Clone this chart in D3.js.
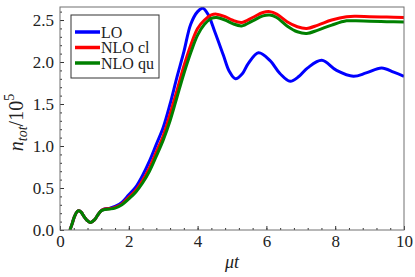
<!DOCTYPE html>
<html>
<head>
<meta charset="utf-8">
<script src="https://cdn.jsdelivr.net/npm/d3@7"></script>
<style>
  body { margin: 0; background: #fff; }
  svg { display: block; }
  text { font-family: "Liberation Serif", "DejaVu Serif", serif; }
</style>
</head>
<body>
<svg width="415" height="277"></svg>
<script>
// time axis (mu t) and n_tot / 10^5
var tLO  = [0.29, 0.35, 0.42, 0.5, 0.55, 0.62, 0.7, 0.8, 0.89, 1.0, 1.1, 1.2, 1.3, 1.45, 1.6, 1.8, 2.0, 2.2, 2.4, 2.6, 2.8, 3.0, 3.2, 3.4, 3.6, 3.8, 4.0, 4.15, 4.3, 4.5, 4.75, 4.92, 5.1, 5.3, 5.47, 5.77, 6.1, 6.4, 6.69, 6.95, 7.2, 7.61, 8.04, 8.53, 8.9, 9.35, 9.7, 10.0],
    nLO  = [0.0, 0.07, 0.16, 0.22, 0.23, 0.21, 0.16, 0.11, 0.09, 0.12, 0.18, 0.23, 0.25, 0.26, 0.28, 0.33, 0.42, 0.51, 0.65, 0.82, 1.02, 1.22, 1.5, 1.82, 2.12, 2.45, 2.6, 2.64, 2.57, 2.36, 2.08, 1.89, 1.8, 1.86, 1.98, 2.11, 2.02, 1.86, 1.77, 1.83, 1.93, 2.02, 1.9, 1.83, 1.87, 1.93, 1.88, 1.83],
    tNLO = [0.29, 0.35, 0.42, 0.5, 0.55, 0.62, 0.7, 0.8, 0.89, 1.0, 1.1, 1.2, 1.3, 1.45, 1.6, 1.8, 2.0, 2.2, 2.4, 2.6, 2.8, 3.0, 3.2, 3.4, 3.6, 3.8, 4.0, 4.2, 4.4, 4.55, 4.8, 5.0, 5.28, 5.6, 5.9, 6.1, 6.3, 6.6, 6.9, 7.17, 7.5, 7.9, 8.33, 8.6, 9.0, 9.5, 10.0],
    nCl  = [0.0, 0.07, 0.16, 0.22, 0.23, 0.21, 0.16, 0.11, 0.09, 0.12, 0.18, 0.23, 0.25, 0.255, 0.27, 0.31, 0.39, 0.47, 0.59, 0.74, 0.93, 1.12, 1.38, 1.66, 1.95, 2.2, 2.4, 2.5, 2.56, 2.57, 2.54, 2.5, 2.47, 2.53, 2.59, 2.6, 2.57, 2.48, 2.42, 2.4, 2.44, 2.5, 2.54, 2.545, 2.54, 2.535, 2.53],
    nQu  = [0.0, 0.07, 0.16, 0.22, 0.23, 0.21, 0.16, 0.11, 0.09, 0.12, 0.18, 0.23, 0.245, 0.25, 0.26, 0.3, 0.37, 0.45, 0.56, 0.7, 0.88, 1.07, 1.3, 1.58, 1.86, 2.11, 2.32, 2.45, 2.52, 2.53, 2.5, 2.46, 2.43, 2.49, 2.55, 2.56, 2.53, 2.43, 2.36, 2.34, 2.38, 2.44, 2.49, 2.49, 2.485, 2.48, 2.475];

var seriesNames = ["LO", "NLO cl", "NLO qu"],
    seriesColors = ["#0000ff", "#ff0000", "#008000"],
    xTicks = [0, 2, 4, 6, 8, 10],
    yTicks = [0, 0.5, 1.0, 1.5, 2.0, 2.5];

var svg = d3.select("svg"),
    margin = {top: 7, right: 11, bottom: 47, left: 60},
    width = +svg.attr("width") - margin.left - margin.right,
    height = +svg.attr("height") - margin.top - margin.bottom,

    x = d3.scaleLinear().domain([0, 10]).range([0, width]),
    y = d3.scaleLinear().domain([0, 2.655]).range([height, 0]),

    g = svg.append("g")
        .attr("transform", "translate(" + margin.left + "," + margin.top + ")");

var series = [
    {name: seriesNames[0], color: seriesColors[0], t: tLO, v: nLO},
    {name: seriesNames[1], color: seriesColors[1], t: tNLO, v: nCl},
    {name: seriesNames[2], color: seriesColors[2], t: tNLO, v: nQu}
];

svg.append("defs").append("clipPath")
    .attr("id", "clip")
    .append("rect")
    .attr("width", width)
    .attr("height", height);

var line = d3.line()
    .x(function(d) { return x(d[0]); })
    .y(function(d) { return y(d[1]); })
    .curve(d3.curveCatmullRom.alpha(0.5));

g.append("g")
    .attr("clip-path", "url(#clip)")
    .selectAll("path")
    .data(series)
    .enter().append("path")
    .attr("fill", "none")
    .attr("stroke", function(d) { return d.color; })
    .attr("stroke-width", 3)
    .attr("stroke-linejoin", "round")
    .attr("d", function(d) { return line(d.t.map(function(t, i) { return [t, d.v[i]]; })); });

// minor ticks
g.append("g")
    .attr("class", "axis")
    .attr("transform", "translate(0," + height + ")")
    .call(d3.axisBottom(x).tickValues(d3.range(0, 10.01, 0.4)).tickSize(-2).tickFormat(""));
g.append("g")
    .attr("class", "axis")
    .call(d3.axisLeft(y).tickValues(d3.range(0, 2.65, 0.1)).tickSize(-2).tickFormat(""));

// major ticks
g.append("g")
    .attr("class", "axis")
    .attr("transform", "translate(0," + height + ")")
    .call(d3.axisBottom(x).tickValues(xTicks).tickSize(-4).tickPadding(5).tickFormat(d3.format("d")));
g.append("g")
    .attr("class", "axis")
    .call(d3.axisLeft(y).tickValues(yTicks).tickSize(-4).tickPadding(6).tickFormat(d3.format(".1f")));

g.selectAll(".axis .domain").remove();
g.selectAll(".axis line").attr("stroke", "#333");
g.selectAll(".axis text")
    .attr("font-family", "Liberation Serif, serif")
    .attr("font-size", 17)
    .attr("fill", "#222");

g.append("rect")
    .attr("width", width)
    .attr("height", height)
    .attr("fill", "none")
    .attr("stroke", "#707070")
    .attr("stroke-width", 1);

// axis labels
svg.append("text")
    .attr("x", margin.left + width / 2)
    .attr("y", 268)
    .attr("text-anchor", "middle")
    .attr("font-size", 18)
    .attr("font-style", "italic")
    .attr("fill", "#222")
    .text("μt");

var ylab = svg.append("text")
    .attr("transform", "translate(23," + (margin.top + height / 2 + 4) + ") rotate(-90)")
    .attr("text-anchor", "middle")
    .attr("font-size", 20)
    .attr("fill", "#222");
ylab.append("tspan").attr("font-style", "italic").text("n");
ylab.append("tspan").attr("font-style", "italic").attr("font-size", 14).attr("dy", 4).text("tot");
ylab.append("tspan").attr("dy", -4).text("/10");
ylab.append("tspan").attr("font-size", 14).attr("dy", -9).text("5");

// legend
var legend = g.append("g").attr("transform", "translate(11,8)");
legend.append("rect")
    .attr("width", 88)
    .attr("height", 63)
    .attr("fill", "#fff")
    .attr("stroke", "#333")
    .attr("stroke-width", 1);

var item = legend.selectAll(".item")
    .data(series)
    .enter().append("g")
    .attr("transform", function(d, i) { return "translate(0," + (17 + i * 15.5) + ")"; });
item.append("line")
    .attr("x1", 4).attr("x2", 29)
    .attr("stroke", function(d) { return d.color; })
    .attr("stroke-width", 3.5);
item.append("text")
    .attr("x", 30)
    .attr("dy", "0.35em")
    .attr("font-size", 16)
    .attr("fill", "#222")
    .text(function(d) { return d.name; });
</script>
</body>
</html>
